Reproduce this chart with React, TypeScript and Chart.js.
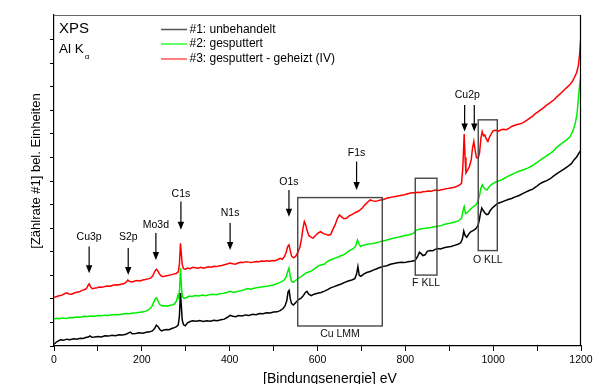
import React, { useEffect, useRef } from 'react';
import { Chart, registerables } from 'chart.js';

Chart.register(...registerables);

const FONT = "'Liberation Sans', Arial, Helvetica, sans-serif";

const seriesLabels = ['#1: unbehandelt', '#2: gesputtert', '#3: gesputtert - geheizt (IV)'];
const seriesColors = ['#000000', '#00ee00', '#ff0000'];
const legendColors = ['#555555', '#33ff33', '#ff5555'];

const xTickValues = [0, 200, 400, 600, 800, 1000, 1200];

// [binding energy eV, intensity (arb. units)]
const spectrumUntreated: [number, number][] = [
  [0,0.08],[5,0.16],[10,0.22],[15,0.26],[22,0.24],[29,0.29],[36,0.27],[45,0.31],[52,0.29],[60,0.33],[66,0.32],[72,0.36],[78,0.38],[82,0.43],[86,0.37],[92,0.38],[100,0.40],[108,0.38],[116,0.43],[124,0.42],[132,0.46],[140,0.44],[148,0.48],[156,0.47],[164,0.50],[170,0.56],[174,0.59],[178,0.52],[186,0.53],[194,0.56],[202,0.54],[210,0.58],[218,0.60],[224,0.64],[229,0.74],[233,0.88],[237,0.82],[241,0.70],[245,0.64],[250,0.68],[256,0.70],[262,0.69],[268,0.74],[274,0.78],[279,0.82],[283,0.90],[285.5,1.25],[288,2.25],[290,1.70],[292,1.10],[295,0.90],[299,0.86],[304,0.98],[310,1.04],[316,1.07],[324,1.05],[332,1.08],[340,1.04],[348,1.07],[356,1.05],[364,1.09],[372,1.07],[380,1.11],[388,1.14],[395,1.22],[401,1.30],[407,1.26],[414,1.24],[420,1.29],[428,1.27],[436,1.32],[444,1.30],[452,1.35],[460,1.33],[468,1.38],[476,1.37],[484,1.41],[492,1.40],[500,1.44],[508,1.45],[515,1.50],[521,1.58],[526,1.70],[530,1.92],[533,2.30],[535.5,2.36],[538,2.00],[541,1.80],[545,1.74],[550,1.84],[556,1.96],[562,2.02],[567,2.12],[572,2.26],[576,2.32],[580,2.20],[586,2.14],[592,2.20],[600,2.24],[608,2.27],[616,2.33],[624,2.40],[630,2.47],[638,2.52],[646,2.58],[654,2.63],[662,2.70],[670,2.76],[678,2.80],[685,2.86],[689,3.05],[692,3.37],[695,3.00],[699,2.96],[705,3.05],[712,3.12],[720,3.16],[727,3.22],[735,3.28],[742,3.33],[750,3.38],[758,3.41],[766,3.47],[774,3.50],[782,3.53],[790,3.55],[798,3.54],[806,3.58],[814,3.60],[822,3.63],[828,3.80],[832,3.98],[836,3.92],[840,3.84],[845,3.87],[850,4.02],[856,4.05],[862,4.04],[868,4.10],[874,4.14],[880,4.12],[888,4.17],[896,4.20],[904,4.22],[912,4.27],[920,4.32],[926,4.38],[930,4.55],[933,4.88],[936,4.70],[940,4.62],[944,4.74],[948,4.84],[954,4.90],[960,4.97],[965,5.10],[968,5.30],[971,5.62],[974,5.86],[977,5.76],[981,5.66],[985,5.58],[989,5.60],[993,5.74],[998,5.86],[1003,5.94],[1010,6.05],[1018,6.10],[1026,6.16],[1034,6.22],[1042,6.26],[1050,6.33],[1058,6.38],[1066,6.46],[1074,6.53],[1082,6.60],[1090,6.66],[1098,6.76],[1106,6.88],[1114,6.96],[1122,7.02],[1130,7.10],[1138,7.22],[1146,7.33],[1154,7.42],[1162,7.52],[1170,7.62],[1178,7.74],[1184,7.90],[1190,8.02],[1195,8.18],[1200,8.32]
];

const spectrumSputtered: [number, number][] = [
  [0,1.14],[6,1.18],[12,1.16],[20,1.19],[28,1.17],[36,1.21],[44,1.20],[52,1.23],[60,1.22],[68,1.26],[76,1.25],[84,1.27],[92,1.26],[100,1.29],[108,1.28],[116,1.31],[124,1.30],[132,1.33],[140,1.34],[148,1.33],[156,1.36],[164,1.38],[172,1.37],[180,1.40],[188,1.41],[196,1.43],[204,1.45],[212,1.50],[218,1.58],[223,1.68],[227,1.85],[231,2.02],[234,2.04],[237,1.90],[241,1.76],[246,1.70],[252,1.71],[258,1.69],[264,1.73],[270,1.74],[275,1.80],[279,1.92],[282,2.15],[284,2.05],[286,2.40],[288,3.31],[290,2.60],[292,2.10],[296,2.02],[302,2.06],[308,2.12],[314,2.10],[322,2.14],[330,2.12],[338,2.16],[346,2.13],[354,2.18],[362,2.20],[370,2.18],[378,2.22],[386,2.24],[394,2.27],[401,2.32],[408,2.28],[416,2.30],[424,2.34],[432,2.38],[440,2.44],[448,2.41],[456,2.45],[464,2.48],[472,2.50],[480,2.53],[488,2.55],[496,2.58],[504,2.62],[512,2.68],[518,2.72],[524,2.80],[528,2.90],[532,3.15],[535,3.31],[538,2.96],[541,2.74],[545,2.70],[550,2.78],[556,2.86],[562,2.94],[568,3.02],[574,3.10],[580,3.14],[586,3.18],[592,3.26],[598,3.35],[604,3.42],[610,3.45],[616,3.48],[622,3.58],[628,3.64],[634,3.68],[640,3.73],[646,3.77],[652,3.82],[658,3.86],[664,3.92],[670,4.02],[676,4.08],[682,4.14],[687,4.25],[691,4.50],[694,4.36],[698,4.22],[704,4.28],[710,4.30],[716,4.33],[722,4.34],[730,4.36],[738,4.40],[746,4.45],[754,4.48],[762,4.52],[770,4.56],[778,4.60],[786,4.63],[794,4.67],[802,4.70],[810,4.72],[818,4.78],[824,4.90],[828,4.94],[834,4.97],[842,4.99],[850,5.01],[858,5.03],[866,5.06],[874,5.08],[882,5.11],[890,5.17],[898,5.20],[906,5.23],[914,5.27],[922,5.32],[928,5.42],[932,5.80],[934,5.92],[937,5.62],[941,5.66],[945,5.74],[950,5.84],[955,5.92],[960,5.98],[965,6.12],[969,6.40],[972,6.70],[975,6.84],[978,6.74],[982,6.66],[986,6.62],[990,6.74],[995,6.84],[1000,6.90],[1008,6.98],[1016,7.03],[1024,7.10],[1032,7.19],[1040,7.26],[1048,7.33],[1056,7.40],[1064,7.45],[1072,7.50],[1080,7.56],[1088,7.64],[1096,7.74],[1104,7.85],[1112,7.95],[1120,8.05],[1128,8.15],[1136,8.26],[1144,8.42],[1152,8.54],[1160,8.65],[1168,8.76],[1175,8.88],[1182,9.15],[1187,9.45],[1191,9.85],[1194,10.5],[1197,11.1],[1200,11.5]
];

const spectrumHeated: [number, number][] = [
  [0,2.06],[6,2.10],[12,2.13],[18,2.16],[24,2.22],[29,2.26],[34,2.21],[40,2.20],[46,2.25],[52,2.28],[58,2.30],[64,2.36],[70,2.40],[74,2.44],[77,2.55],[80,2.64],[83,2.52],[87,2.43],[92,2.45],[98,2.47],[104,2.50],[110,2.49],[116,2.53],[122,2.55],[128,2.54],[134,2.58],[140,2.60],[146,2.59],[152,2.62],[158,2.64],[164,2.70],[168,2.80],[172,2.74],[178,2.72],[184,2.76],[190,2.78],[196,2.76],[202,2.80],[208,2.82],[214,2.85],[220,2.88],[225,2.98],[229,3.15],[233,3.26],[236,3.20],[240,3.06],[244,2.98],[248,2.94],[254,2.97],[260,2.99],[266,3.02],[272,3.05],[278,3.08],[283,3.15],[285.5,3.45],[288,4.36],[290,3.90],[292,3.45],[295,3.28],[299,3.26],[304,3.31],[310,3.28],[316,3.34],[322,3.32],[328,3.30],[334,3.34],[340,3.30],[346,3.33],[352,3.36],[358,3.34],[364,3.38],[370,3.37],[376,3.40],[382,3.42],[388,3.45],[394,3.48],[401,3.52],[407,3.49],[413,3.47],[419,3.52],[425,3.55],[431,3.54],[437,3.58],[443,3.56],[449,3.54],[455,3.57],[461,3.59],[467,3.58],[473,3.61],[479,3.60],[485,3.62],[491,3.60],[497,3.63],[503,3.62],[509,3.66],[515,3.72],[520,3.68],[525,3.80],[529,4.00],[532,4.22],[535,4.29],[538,4.05],[541,3.82],[545,3.74],[550,3.80],[555,3.96],[560,4.20],[564,4.60],[567,5.00],[570,5.28],[573,5.15],[576,4.92],[580,4.70],[585,4.62],[590,4.58],[596,4.70],[602,4.80],[607,4.85],[613,4.78],[619,4.74],[625,4.70],[630,4.73],[635,4.95],[640,5.14],[645,5.40],[650,5.56],[655,5.48],[660,5.40],[666,5.42],[672,5.52],[678,5.58],[684,5.64],[690,5.70],[696,5.76],[702,5.86],[708,5.99],[714,6.10],[720,6.20],[726,6.16],[732,6.14],[738,6.17],[744,6.20],[750,6.22],[756,6.26],[762,6.29],[768,6.32],[774,6.34],[780,6.36],[786,6.38],[792,6.40],[798,6.42],[804,6.45],[810,6.48],[816,6.50],[822,6.51],[828,6.53],[834,6.52],[840,6.55],[846,6.56],[852,6.58],[858,6.57],[864,6.60],[870,6.62],[876,6.60],[882,6.63],[888,6.65],[894,6.68],[900,6.70],[906,6.72],[912,6.74],[918,6.78],[924,6.84],[928,6.90],[931,7.60],[934,9.00],[936,8.00],[938,7.35],[942,7.48],[946,7.62],[950,7.90],[953,8.40],[956,8.68],[959,8.30],[962,8.00],[966,7.98],[969,8.20],[972,8.80],[975,9.10],[978,8.92],[981,8.96],[984,8.80],[988,8.68],[992,8.88],[996,9.02],[1000,9.14],[1006,9.16],[1012,9.12],[1018,9.18],[1024,9.20],[1030,9.18],[1036,9.24],[1042,9.32],[1048,9.36],[1054,9.40],[1060,9.42],[1066,9.46],[1072,9.52],[1078,9.60],[1084,9.68],[1090,9.76],[1096,9.86],[1102,9.94],[1108,10.02],[1114,10.10],[1120,10.20],[1126,10.28],[1132,10.36],[1138,10.44],[1144,10.56],[1150,10.66],[1156,10.76],[1162,10.88],[1168,10.98],[1174,11.08],[1180,11.22],[1185,11.40],[1190,11.60],[1194,11.90],[1197,12.40],[1200,13.2]
];

// Peak markers: label text, energy of the arrow, label height, arrow start / tip heights (data units)
const peakNames = ['Cu3p', 'S2p', 'Mo3d', 'C1s', 'N1s', 'O1s', 'F1s'];
const peakEnergies = [80, 169, 232, 289, 401, 535, 689];
const peakLabelY = [4.63, 4.63, 5.14, 6.45, 5.65, 6.96, 8.18];
const peakArrowTop = [4.22, 4.16, 4.80, 6.13, 5.22, 6.62, 7.83];
const peakArrowTip = [3.09, 3.01, 3.65, 4.93, 4.08, 5.49, 6.62];

const cu2pLabel = 'Cu2p';
const cu2pLabelEnergy = 941;
const cu2pLabelY = 10.66;
const cu2pEnergies = [935, 957];
const cu2pArrowTop = 10.23;
const cu2pArrowTip = 9.1;

// Auger regions: label, energy range, intensity range, label height
const regionNames = ['Cu LMM', 'F KLL', 'O KLL'];
const regionStart = [555, 822.6, 966];
const regionEnd = [747.5, 872, 1009.4];
const regionTop = [6.3, 7.12, 9.6];
const regionBottom = [0.85, 3.01, 4.05];
const regionLabelY = [0.51, 2.66, 3.65];

const Y_MAX = 14.05;

const drawArrow = (ctx: CanvasRenderingContext2D, x: number, yTop: number, yTip: number) => {
  const head = 8;
  const half = 3.2;
  ctx.beginPath();
  ctx.moveTo(x, yTop);
  ctx.lineTo(x, yTip - head + 1);
  ctx.stroke();
  ctx.beginPath();
  ctx.moveTo(x, yTip);
  ctx.lineTo(x - half, yTip - head);
  ctx.lineTo(x + half, yTip - head);
  ctx.closePath();
  ctx.fill();
};

const decorPlugin = {
  id: 'xpsDecor',
  afterDatasetsDraw(chart: any) {
    const { ctx, chartArea } = chart;
    const xs = chart.scales.x;
    const ys = chart.scales.y;
    ctx.save();

    // frame (top and right)
    ctx.strokeStyle = '#666';
    ctx.lineWidth = 1.2;
    ctx.beginPath();
    ctx.moveTo(chartArea.left, chartArea.top + 0.5);
    ctx.lineTo(chartArea.right, chartArea.top + 0.5);
    ctx.stroke();
    ctx.strokeStyle = '#000';
    ctx.lineWidth = 1.2;
    ctx.beginPath();
    ctx.moveTo(chartArea.right - 0.5, chartArea.top);
    ctx.lineTo(chartArea.right - 0.5, chartArea.bottom);
    ctx.stroke();

    // Auger boxes
    ctx.strokeStyle = '#474747';
    ctx.lineWidth = 1.4;
    ctx.fillStyle = '#111';
    ctx.font = `10.5px ${FONT}`;
    ctx.textAlign = 'center';
    ctx.textBaseline = 'middle';
    regionNames.forEach((name, i) => {
      const x0 = xs.getPixelForValue(regionStart[i]);
      const x1 = xs.getPixelForValue(regionEnd[i]);
      const y0 = ys.getPixelForValue(regionTop[i]);
      const y1 = ys.getPixelForValue(regionBottom[i]);
      ctx.strokeRect(x0, y0, x1 - x0, y1 - y0);
      ctx.fillText(name, (x0 + x1) / 2, ys.getPixelForValue(regionLabelY[i]));
    });

    // peak arrows
    ctx.strokeStyle = '#000';
    ctx.fillStyle = '#000';
    ctx.lineWidth = 1.2;
    ctx.font = `10.5px ${FONT}`;
    peakNames.forEach((name, i) => {
      const px = xs.getPixelForValue(peakEnergies[i]);
      drawArrow(ctx, px, ys.getPixelForValue(peakArrowTop[i]), ys.getPixelForValue(peakArrowTip[i]));
      ctx.fillText(name, px, ys.getPixelForValue(peakLabelY[i]));
    });
    cu2pEnergies.forEach((e) => {
      drawArrow(ctx, xs.getPixelForValue(e), ys.getPixelForValue(cu2pArrowTop), ys.getPixelForValue(cu2pArrowTip));
    });
    ctx.fillText(cu2pLabel, xs.getPixelForValue(cu2pLabelEnergy), ys.getPixelForValue(cu2pLabelY));

    // XPS / Al K alpha
    ctx.textAlign = 'left';
    ctx.font = `15px ${FONT}`;
    ctx.fillText('XPS', chartArea.left + 5, 28.5);
    ctx.font = `13.5px ${FONT}`;
    ctx.fillText('Al K', chartArea.left + 5, 49.5);
    const w = ctx.measureText('Al K').width;
    ctx.font = `8px ${FONT}`;
    ctx.fillText('\u03b1', chartArea.left + 5 + w + 1, 56.5);

    // legend
    const legendY = [29.5, 44, 59];
    ctx.font = `12px ${FONT}`;
    seriesLabels.forEach((lab, i) => {
      ctx.strokeStyle = legendColors[i];
      ctx.lineWidth = 1.5;
      ctx.beginPath();
      ctx.moveTo(161, legendY[i]);
      ctx.lineTo(187, legendY[i]);
      ctx.stroke();
      ctx.fillStyle = '#000';
      ctx.fillText(lab, 189.5, legendY[i]);
    });

    // axis titles
    ctx.fillStyle = '#000';
    ctx.textAlign = 'center';
    ctx.font = `14px ${FONT}`;
    ctx.fillText('[Bindungsenergie] eV', 330, 379);
    ctx.save();
    ctx.translate(36, 171);
    ctx.rotate(-Math.PI / 2);
    ctx.font = `13px ${FONT}`;
    ctx.fillText('[Zählrate #1] bel. Einheiten', 0, 0);
    ctx.restore();

    ctx.restore();
  },
};

export default function App() {
  const canvasRef = useRef<HTMLCanvasElement | null>(null);

  useEffect(() => {
    document.body.style.margin = '0';
    const canvas = canvasRef.current;
    if (!canvas) return;
    const toPoints = (arr: [number, number][]) => arr.map(([x, y]) => ({ x, y }));
    const spectra = [spectrumUntreated, spectrumSputtered, spectrumHeated];
    const chart = new Chart(canvas, {
      type: 'line',
      data: {
        datasets: spectra.map((s, i) => ({
          label: seriesLabels[i],
          data: toPoints(s),
          borderColor: seriesColors[i],
          borderWidth: 1.5,
          pointRadius: 0,
          tension: 0,
          fill: false,
        })),
      },
      options: {
        responsive: false,
        animation: false,
        devicePixelRatio: 1,
        layout: { padding: { top: 15, right: 26, left: 0, bottom: 0 } },
        plugins: { legend: { display: false }, tooltip: { enabled: false }, title: { display: false } },
        scales: {
          x: {
            type: 'linear',
            min: 0,
            max: 1200,
            afterFit: (s: any) => { s.height = 38; },
            afterBuildTicks: (s: any) => {
              const t = [];
              for (let v = 0; v <= 1200; v += 100) t.push({ value: v });
              s.ticks = t;
            },
            ticks: {
              autoSkip: false,
              maxRotation: 0,
              padding: 3,
              color: '#000',
              font: { size: 10.5, family: FONT },
              callback: (v: any) => (xTickValues.includes(Number(v)) ? String(v) : ''),
            },
            grid: { drawOnChartArea: false, tickLength: 5, color: '#000', lineWidth: 1 },
            border: { color: '#000', width: 1.2 },
          },
          y: {
            type: 'linear',
            min: 0,
            max: Y_MAX,
            afterFit: (s: any) => { s.width = 54; },
            afterBuildTicks: (s: any) => {
              const t = [];
              for (let v = 0; v <= 13; v += 1) t.push({ value: v });
              s.ticks = t;
            },
            ticks: { display: false },
            grid: { drawOnChartArea: false, tickLength: 4, color: '#000', lineWidth: 1 },
            border: { color: '#000', width: 1.2 },
          },
        },
      },
      plugins: [decorPlugin],
    } as any);
    return () => chart.destroy();
  }, []);

  return (
    <div style={{ width: 607, height: 384, background: '#fff' }}>
      <canvas ref={canvasRef} width={607} height={384} style={{ display: 'block' }} />
    </div>
  );
}
